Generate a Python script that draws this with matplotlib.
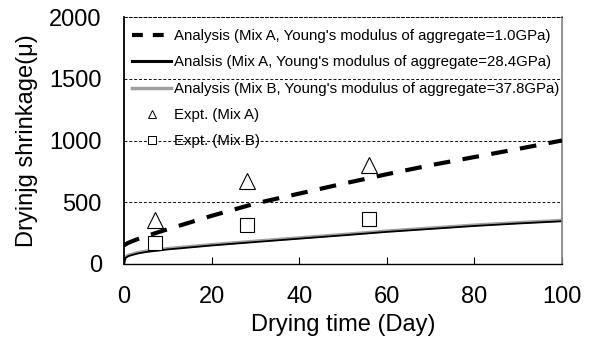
import numpy as np
import matplotlib.pyplot as plt
from matplotlib.lines import Line2D

plt.rcParams['font.family'] = ['Liberation Sans', 'DejaVu Sans']

# analysis curves
days = [0, 0.3, 1, 3, 5, 10, 20, 30, 40, 50, 60, 70, 80, 90, 100]
mixA_1gpa = [150, 158, 172, 200, 225, 282, 390, 490, 570, 650, 727, 800, 866, 932, 1000]
mixA_28gpa = [0, 48, 64, 84, 97, 118, 150, 178, 205, 232, 260, 284, 308, 328, 346]
mixB_38gpa = [0, 55, 72, 92, 105, 126, 158, 186, 213, 240, 268, 292, 316, 336, 354]

# experiments
expt_days = [7, 28, 56]
expt_mixA = [360, 675, 800]
expt_mixB = [170, 318, 362]

labels = ["Analysis (Mix A, Young's modulus of aggregate=1.0GPa)",
          "Analsis (Mix A, Young's modulus of aggregate=28.4GPa)",
          "Analysis (Mix B, Young's modulus of aggregate=37.8GPa)",
          "Expt. (Mix A)",
          "Expt. (Mix B)"]

fig = plt.figure(figsize=(5.92, 3.43), dpi=100)
ax = fig.add_axes([124 / 592, 1 - 264 / 343, 438 / 592, 247 / 343])

ax.plot(days, mixA_1gpa, color='black', lw=3, dashes=(4, 3), zorder=3)
ax.plot(days, mixB_38gpa, color='#a0a0a0', lw=2.2, zorder=2)
ax.plot(days, mixA_28gpa, color='black', lw=1.3, zorder=2)
ax.plot(expt_days, expt_mixA, ls='none', marker='^', ms=12, mfc='white',
        mec='black', mew=0.8, zorder=4)
ax.plot(expt_days, expt_mixB, ls='none', marker='s', ms=10.5, mfc='white',
        mec='black', mew=0.8, zorder=4)

ax.set_xlim(0, 100)
ax.set_ylim(0, 2000)
ax.set_xticks(range(0, 101, 20))
ax.set_yticks(range(0, 2001, 500))
for v in [500, 1000, 1500]:
    ax.axhline(v, color='#101010', lw=0.7, ls=(0, (3, 2)), zorder=0)
ax.tick_params(axis='x', direction='in', length=5, pad=16, labelsize=17)
ax.tick_params(axis='y', length=0, pad=16, labelsize=17)
ax.spines['top'].set_linestyle((0, (3, 2)))
ax.spines['top'].set_linewidth(0.7)
ax.spines['right'].set_color('#808080')
ax.spines['right'].set_linewidth(1.2)
ax.spines['left'].set_linewidth(1.3)
ax.spines['bottom'].set_linewidth(1.0)

ax.set_xlabel('Drying time (Day)', fontsize=17, labelpad=4)
ax.set_ylabel('Dryinjg shrinkage(\u03bc)', fontsize=17, labelpad=8)

handles = [
    Line2D([], [], color='black', lw=3, dashes=(2.6, 2.4)),
    Line2D([], [], color='black', lw=2.2),
    Line2D([], [], color='#a0a0a0', lw=2.5),
    Line2D([], [], ls='none', marker='^', ms=6, mfc='white', mec='black', mew=0.7),
    Line2D([], [], ls='none', marker='s', ms=5.5, mfc='white', mec='black', mew=0.7),
]
ax.legend(handles, labels, loc='upper left', frameon=False, fontsize=10.8,
          handlelength=2.6, handletextpad=0.2, borderaxespad=0.0,
          labelspacing=0.82, bbox_to_anchor=(0.005, 0.975))

fig.savefig('out.png', dpi=100)
